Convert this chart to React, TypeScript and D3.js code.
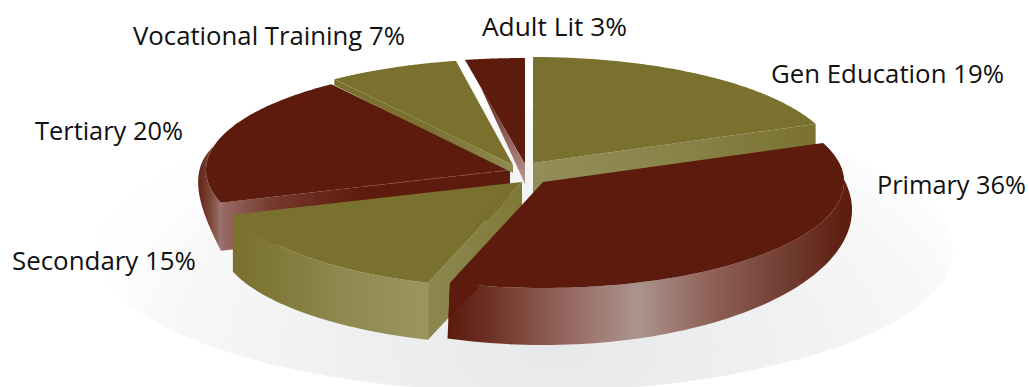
import React from "react";
import * as d3 from "d3";

// Education spending shares, clockwise from twelve o'clock.
const categories = ["Gen Education", "Primary", "Secondary", "Tertiary", "Vocational Training", "Adult Lit"];
const shares = [19, 36, 15, 20, 7, 3];

// Exploded displacement of each wedge from the pie centre.
const offsetX = [7, 17, -4, -16, -13, -1];
const offsetY = [-9, 10, 10, -2, -7, -8];
const radiusX = [304, 301, 304, 304, 304, 320];

// Label anchors and fitted widths, in category order.
const labelX = [771, 877, 12, 35, 133, 482];
const labelY = [83, 194, 270, 140, 45, 36];
const labelWidth = [233, 149, 184, 148, 272, 145];

const OLIVE = "#7a712f";
const RED = "#5c1b0d";
const W = 1029;
const H = 387;
const CX = 526;
const CY = 172;
const RY = 106;

type Pt = [number, number];

const toPath = d3.line<Pt>().x((d) => d[0]).y((d) => d[1]);

const rim = (ax: number, ay: number, a: number, rx: number, ry = RY): Pt => [
  ax + rx * Math.sin(a),
  ay - ry * Math.cos(a),
];

const sweep = (a0: number, a1: number, n = 80) => d3.range(n + 1).map((i) => a0 + ((a1 - a0) * i) / n);

const along = (p: Pt, q: Pt, t: number): Pt => [p[0] + (q[0] - p[0]) * t, p[1] + (q[1] - p[1]) * t];

const below = (p: Pt, d: number): Pt => [p[0], p[1] + d];

const deg = (d: number) => (d * Math.PI) / 180;

export default function App() {
  const arcs = d3.pie<number>().sort(null).value((d) => d)(shares);

  const wedges = arcs.map((arc, i) => {
    const ax = CX + offsetX[i];
    const ay = CY + offsetY[i];
    const rx = radiusX[i];
    const apex: Pt = [ax, ay];
    const edge = sweep(arc.startAngle, arc.endAngle).map((a) => rim(ax, ay, a, rx));
    return {
      ax,
      ay,
      rx,
      apex,
      a0: arc.startAngle,
      a1: arc.endAngle,
      edge,
      first: edge[0],
      last: edge[edge.length - 1],
      top: toPath([apex, ...edge])! + "Z",
    };
  });

  const [gen, pri, sec, ter, voc, adu] = wedges;

  // Gen Education: cut side below the right-hand edge.
  const genCut = toPath([gen.apex, gen.last, below(gen.last, 32), below(gen.apex, 32)])! + "Z";

  // Primary: outer wall, whose lower rim swells toward the viewer.
  const priLower = sweep(pri.a0, pri.a1).map((a) => rim(pri.ax, pri.ay + 28, a, 309, RY + 29));
  const priWall = toPath([...pri.edge, ...priLower.slice().reverse()])! + "Z";
  const priShade =
    toPath([
      pri.last,
      rim(pri.ax, pri.ay, pri.a1 - deg(6), pri.rx),
      along(pri.last, priLower[priLower.length - 1], 0.65),
    ])! + "Z";

  // Secondary: outer wall of constant depth and the cut side facing Primary.
  const secDepth = 57;
  const secWall = toPath([...sec.edge, ...sec.edge.slice().reverse().map((p) => below(p, secDepth))])! + "Z";
  const secCut = toPath([sec.apex, sec.first, below(sec.first, secDepth), below(sec.apex, secDepth)])! + "Z";
  const secCrease = toPath(
    [along(sec.apex, sec.first, 0.03), along(sec.apex, sec.first, 0.42)].map((p) => [p[0] - 6, p[1] + 1] as Pt)
  )!;

  // Tertiary: front cut side, plus a short outer wall that tapers into the rim.
  const terDepth = 48;
  const terCut = toPath([ter.apex, ter.first, below(ter.first, terDepth), below(ter.apex, terDepth)])! + "Z";
  const terSpan = sweep(ter.a0, ter.a0 + deg(31), 40);
  const terLower = terSpan.map((a, k) => {
    const t = k / 40;
    const p = rim(ter.ax, ter.ay, a, ter.rx);
    return [p[0] - 8 * Math.sin(Math.PI * t), p[1] + terDepth * (1 - t) ** 2] as Pt;
  });
  const terWall =
    toPath([...terSpan.map((a) => rim(ter.ax, ter.ay, a, ter.rx)), ...terLower.slice().reverse()])! + "Z";
  const terSeam = toPath([along(ter.apex, ter.first, 0.02), along(ter.apex, ter.first, 0.5)])!;

  // Cut sides seen on the two narrow back wedges.
  const vocBand = toPath([voc.first, voc.apex, below(voc.apex, 8), below(voc.first, 6)])! + "Z";
  const aduBand = toPath([along(adu.apex, adu.first, 0.74), adu.apex, below(adu.apex, 20)])! + "Z";

  return (
    <svg
      width={W}
      height={H}
      viewBox={`0 0 ${W} ${H}`}
      style={{ position: "absolute", left: 0, top: 0, display: "block", background: "#fff" }}
    >
      <defs>
        <radialGradient
          id="floor"
          gradientUnits="userSpaceOnUse"
          cx={0}
          cy={0}
          r={1}
          gradientTransform={`translate(${CX + 30} 350) scale(460 262)`}
        >
          <stop offset="0" stopColor="#e7e8e9" />
          <stop offset="0.45" stopColor="#eff0f1" />
          <stop offset="0.85" stopColor="#f8f8f8" />
          <stop offset="1" stopColor="#fefefe" />
        </radialGradient>
        <linearGradient id="priWall" gradientUnits="userSpaceOnUse" x1={448} x2={852} y1={0} y2={0}>
          <stop offset="0" stopColor={RED} />
          <stop offset="0.1" stopColor="#6c3024" />
          <stop offset="0.27" stopColor="#916259" />
          <stop offset="0.47" stopColor="#ac948e" />
          <stop offset="0.66" stopColor="#8e5f56" />
          <stop offset="0.85" stopColor="#6f3a2e" />
          <stop offset="1" stopColor={RED} />
        </linearGradient>
        <linearGradient id="secWall" gradientUnits="userSpaceOnUse" x1={233} x2={428} y1={0} y2={0}>
          <stop offset="0" stopColor={OLIVE} />
          <stop offset="0.15" stopColor="#7e7635" />
          <stop offset="0.55" stopColor="#8f884f" />
          <stop offset="1" stopColor="#9b965f" />
        </linearGradient>
        <linearGradient id="secCut" gradientUnits="userSpaceOnUse" x1={428} x2={525} y1={0} y2={0}>
          <stop offset="0" stopColor="#8d8850" />
          <stop offset="1" stopColor="#7f7836" />
        </linearGradient>
        <linearGradient id="genCut" gradientUnits="userSpaceOnUse" x1={533} x2={817} y1={0} y2={0}>
          <stop offset="0" stopColor="#938e58" />
          <stop offset="0.5" stopColor="#8a8449" />
          <stop offset="1" stopColor="#7a712f" />
        </linearGradient>
        <linearGradient id="terWall" gradientUnits="userSpaceOnUse" x1={199} x2={360} y1={0} y2={0}>
          <stop offset="0" stopColor="#652619" />
          <stop offset="0.07" stopColor="#7b463a" />
          <stop offset="0.13" stopColor="#9a6e69" />
          <stop offset="0.45" stopColor="#75392d" />
          <stop offset="1" stopColor={RED} />
        </linearGradient>
        <linearGradient id="aduBand" gradientUnits="userSpaceOnUse" x1={482} y1={87} x2={525} y2={175}>
          <stop offset="0" stopColor={RED} />
          <stop offset="0.35" stopColor="#7d473c" />
          <stop offset="1" stopColor="#b08f8c" />
        </linearGradient>
        <linearGradient id="vocBand" gradientUnits="userSpaceOnUse" x1={334} x2={513} y1={0} y2={0}>
          <stop offset="0" stopColor={OLIVE} />
          <stop offset="0.5" stopColor={OLIVE} />
          <stop offset="1" stopColor="#908a50" />
        </linearGradient>
      </defs>

      <ellipse cx={CX - 1} cy={250} rx={428} ry={142} fill="url(#floor)" />

      <path d={genCut} fill="url(#genCut)" />
      <path d={gen.top} fill={OLIVE} />

      <path d={terWall} fill="url(#terWall)" />
      <path d={terCut} fill="url(#terWall)" />
      <path d={ter.top} fill={RED} />
      <path d={terSeam} fill="none" stroke="#8a5040" strokeWidth={0.8} strokeDasharray="9 3" />

      <path d={vocBand} fill="url(#vocBand)" />
      <path d={voc.top} fill={OLIVE} />
      <path d={adu.top} fill={RED} />
      <path d={aduBand} fill="url(#aduBand)" />

      <path d={secWall} fill="url(#secWall)" />
      <path d={secCut} fill="url(#secCut)" />
      <path d={sec.top} fill={OLIVE} />
      <path d={secCrease} fill="none" stroke="#6c6428" strokeWidth={0.7} />

      <path d={priWall} fill="url(#priWall)" />
      <path d={priShade} fill={RED} />
      <path d={pri.top} fill={RED} />

      {categories.map((name, i) => (
        <text
          key={name}
          x={labelX[i]}
          y={labelY[i]}
          textLength={labelWidth[i]}
          lengthAdjust="spacingAndGlyphs"
          fontFamily="'Open Sans', 'Noto Sans', sans-serif"
          fontSize={25.6}
          fill="#111"
        >
          {`${name} ${shares[i]}%`}
        </text>
      ))}
    </svg>
  );
}
